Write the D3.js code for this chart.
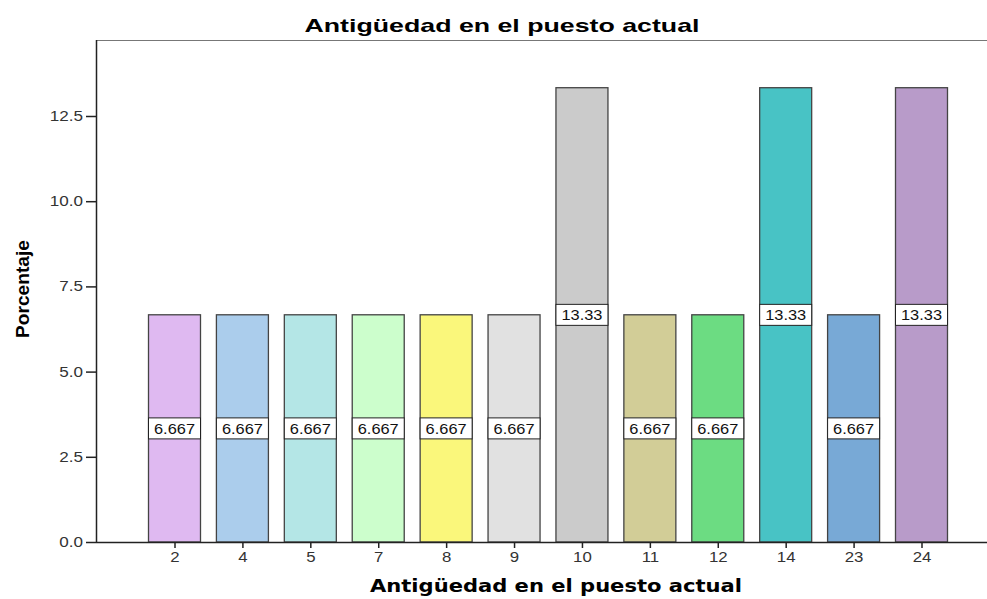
<!DOCTYPE html>
<html><head><meta charset="utf-8">
<script src="https://cdn.jsdelivr.net/npm/d3@7"></script>
<style>body{margin:0;background:#fff}svg{display:block}</style>
</head><body>
<svg id="c" width="987" height="599"></svg>
<script>
const categories = ["2","4","5","7","8","9","10","11","12","14","23","24"];
const values = [6.667,6.667,6.667,6.667,6.667,6.667,13.33,6.667,6.667,13.33,6.667,13.33];
const labels = ["6.667","6.667","6.667","6.667","6.667","6.667","13.33","6.667","6.667","13.33","6.667","13.33"];
const colors = ["#dfb9f1","#abcdec","#b4e6e6","#ccfecc","#faf77b","#e1e1e1","#cbcbcb","#d2cd97","#6cdc82","#48c3c5","#78a9d6","#b89bc9"];
const yTicks = [0,2.5,5,7.5,10,12.5];

(function(){
const svg = d3.select("#c");
const font = "Liberation Sans, Arial, sans-serif";
const pLeft = 96, pTop = 40, pBottom = 542, pRight = 1000;
const x = d3.scalePoint().domain(categories).range([174.5, 921.5]);
const y = d3.scaleLinear().domain([0, 14.73]).range([pBottom, pTop]);
const bw = 52;
function stretch(sel, k){
  sel.each(function(){
    const w = this.getComputedTextLength();
    d3.select(this).attr("textLength", w*k).attr("lengthAdjust","spacingAndGlyphs");
  });
}

svg.append("line").attr("x1",pLeft).attr("x2",pRight).attr("y1",pTop+0.5).attr("y2",pTop+0.5)
  .attr("stroke","#777").attr("stroke-width",1.2);

const g = svg.append("g");
categories.forEach((c,i)=>{
  g.append("rect").attr("x",x(c)-bw/2).attr("y",y(values[i])).attr("width",bw)
   .attr("height",y(0)-y(values[i])).attr("fill",colors[i])
   .attr("stroke","#444").attr("stroke-width",1.3);
});
categories.forEach((c,i)=>{
  const cy = y(values[i]/2);
  g.append("rect").attr("x",x(c)-bw/2).attr("y",cy-10.5).attr("width",bw).attr("height",21)
   .attr("fill","#fff").attr("stroke","#222").attr("stroke-width",1);
  g.append("text").attr("x",x(c)).attr("y",cy+5.5).attr("text-anchor","middle")
   .attr("font-family",font).attr("font-size",14.5).attr("fill","#111").text(labels[i])
   .attr("textLength",41).attr("lengthAdjust","spacingAndGlyphs");
});

const ya = svg.append("g").attr("transform",`translate(${pLeft},0)`)
  .call(d3.axisLeft(y).tickValues(yTicks).tickFormat(d3.format(".1f")).tickSize(10).tickPadding(3));
ya.select(".domain").attr("d",`M0.5,${pTop}V${pBottom}`).attr("stroke","#222").attr("stroke-width",1.5);
ya.selectAll(".tick line").attr("stroke","#222").attr("stroke-width",1.5);
ya.selectAll("text").attr("font-family",font).attr("font-size",14).attr("fill","#333");
stretch(ya.selectAll("text"), 1.22);

const xa = svg.append("g").attr("transform",`translate(0,${pBottom})`)
  .call(d3.axisBottom(x).tickSize(6).tickPadding(4));
xa.select(".domain").attr("d",`M${pLeft},0.5H${pRight}`).attr("stroke","#222").attr("stroke-width",1.5);
xa.selectAll(".tick line").attr("stroke","#222").attr("stroke-width",1.5);
xa.selectAll("text").attr("font-family",font).attr("font-size",14).attr("fill","#333");
stretch(xa.selectAll("text"), 1.2);

svg.append("text").attr("x",502).attr("y",32).attr("text-anchor","middle")
  .attr("font-family",font).attr("font-weight","bold").attr("font-size",19)
  .attr("textLength",395).attr("lengthAdjust","spacingAndGlyphs").text("Antigüedad en el puesto actual");
svg.append("text").attr("x",556).attr("y",592).attr("text-anchor","middle")
  .attr("font-family","DejaVu Sans, Verdana, sans-serif").attr("font-weight","bold").attr("font-size",17)
  .attr("textLength",372).attr("lengthAdjust","spacingAndGlyphs").text("Antigüedad en el puesto actual");
svg.append("text").attr("transform","translate(29,289) rotate(-90)").attr("text-anchor","middle")
  .attr("font-family",font).attr("font-weight","bold").attr("font-size",18)
  .attr("textLength",98).attr("lengthAdjust","spacingAndGlyphs").text("Porcentaje");
})();
</script>
</body></html>
